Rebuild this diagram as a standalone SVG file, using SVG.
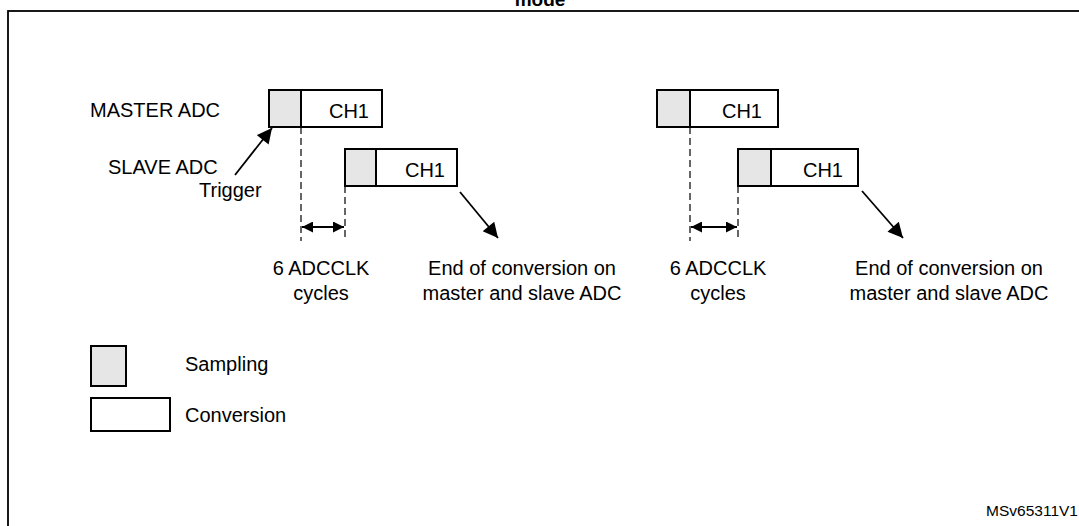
<svg xmlns="http://www.w3.org/2000/svg" width="1079" height="526" viewBox="0 0 1079 526">
<style>
text{font-family:"Liberation Sans",Arial,sans-serif;fill:#000}
.t{font-size:20px}
.s{fill:#e6e6e6;stroke:#000;stroke-width:2}
.c{fill:#fff;stroke:#000;stroke-width:2}
.d{stroke:#000;stroke-width:1.2;stroke-dasharray:7,4;fill:none}
.a{stroke:#000;stroke-width:1.8;fill:none}
</style>
<defs>
<marker id="ah" viewBox="0 0 10 10" refX="10" refY="5" markerWidth="12" markerHeight="11" markerUnits="userSpaceOnUse" orient="auto-start-reverse"><path d="M0,0L10,5L0,10z" fill="#000"/></marker>
<marker id="ab" viewBox="0 0 10 10" refX="10" refY="5" markerWidth="17" markerHeight="15" markerUnits="userSpaceOnUse" orient="auto"><path d="M0,0L10,5L0,10z" fill="#000"/></marker>
</defs>
<rect width="1079" height="526" fill="#fff"/>
<text x="540" y="6" text-anchor="middle" font-size="19" font-weight="bold">mode</text>
<rect x="8" y="11" width="1100" height="540" fill="none" stroke="#000" stroke-width="1.8"/>
<text class="t" x="90" y="117">MASTER ADC</text>
<text class="t" x="108" y="174">SLAVE ADC</text>
<text class="t" x="199" y="197">Trigger</text>
<g id="m1"><rect class="c" x="269" y="90" width="113" height="37"/><rect class="s" x="269" y="90" width="32" height="37"/><text class="t" x="349" y="118" text-anchor="middle">CH1</text></g>
<g id="s1"><rect class="c" x="345" y="149" width="112" height="37"/><rect class="s" x="345" y="149" width="31" height="37"/><text class="t" x="425" y="177" text-anchor="middle">CH1</text></g>
<g id="m2"><rect class="c" x="657" y="90" width="121" height="37"/><rect class="s" x="657" y="90" width="33" height="37"/><text class="t" x="742" y="118" text-anchor="middle">CH1</text></g>
<g id="s2"><rect class="c" x="738" y="149" width="120" height="37"/><rect class="s" x="738" y="149" width="33" height="37"/><text class="t" x="823" y="177" text-anchor="middle">CH1</text></g>
<g id="connectors">
<line class="d" x1="301" y1="127" x2="301" y2="241"/>
<line class="d" x1="345" y1="186" x2="345" y2="241"/>
<line class="d" x1="690" y1="127" x2="690" y2="241"/>
<line class="d" x1="738" y1="186" x2="738" y2="241"/>
<line class="a" x1="302" y1="227" x2="344" y2="227" marker-start="url(#ah)" marker-end="url(#ah)"/>
<line class="a" x1="691" y1="227" x2="737" y2="227" marker-start="url(#ah)" marker-end="url(#ah)"/>
<line class="a" x1="235" y1="175" x2="272" y2="128" marker-end="url(#ab)"/>
<line class="a" x1="460" y1="192" x2="498" y2="238" marker-end="url(#ab)"/>
<line class="a" x1="862" y1="191" x2="903" y2="238" marker-end="url(#ab)"/>
</g>
<text class="t" text-anchor="middle"><tspan x="321" y="275">6 ADCCLK</tspan><tspan x="321" y="300">cycles</tspan></text>
<text class="t" text-anchor="middle"><tspan x="522" y="275">End of conversion on</tspan><tspan x="522" y="300">master and slave ADC</tspan></text>
<text class="t" text-anchor="middle"><tspan x="718" y="275">6 ADCCLK</tspan><tspan x="718" y="300">cycles</tspan></text>
<text class="t" text-anchor="middle"><tspan x="949" y="275">End of conversion on</tspan><tspan x="949" y="300">master and slave ADC</tspan></text>
<g id="legend-s"><rect class="s" x="91" y="346" width="35" height="40"/><text class="t" x="185" y="371">Sampling</text></g>
<g id="legend-c"><rect class="c" x="91" y="398" width="79" height="33"/><text class="t" x="185" y="422">Conversion</text></g>
<text x="1078" y="516" text-anchor="end" font-size="15.5">MSv65311V1</text>
</svg>
